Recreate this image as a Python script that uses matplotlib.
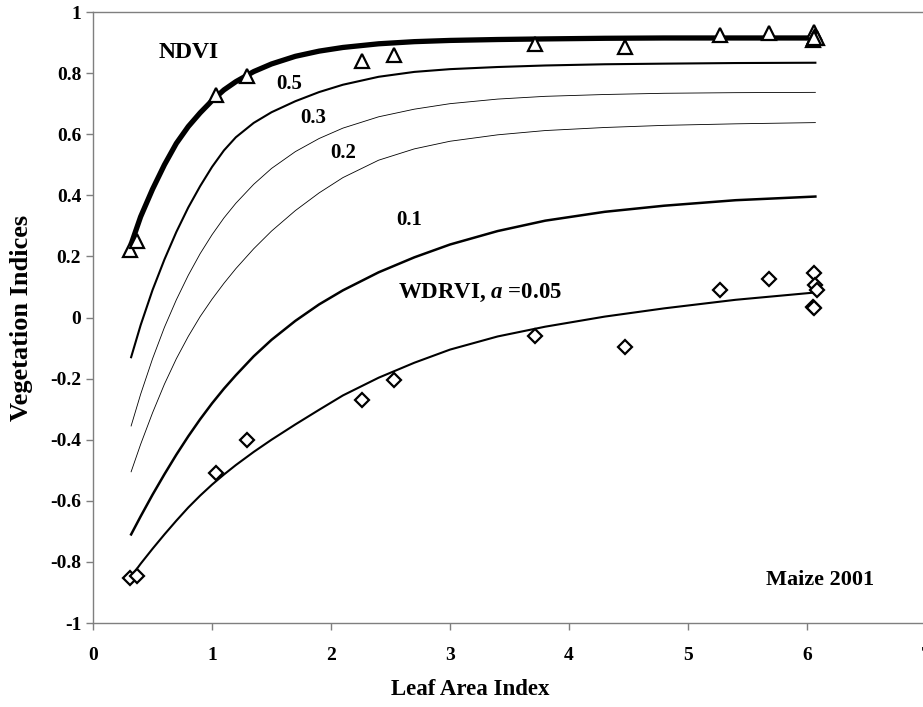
import matplotlib
matplotlib.use("Agg")
import matplotlib.pyplot as plt
from matplotlib.ticker import FuncFormatter

# ---- data ----
lai_grid = [0.32, 0.4, 0.5, 0.6, 0.7, 0.8, 0.9, 1.0, 1.1, 1.2, 1.35, 1.5,
            1.7, 1.9, 2.1, 2.4, 2.7, 3.0, 3.4, 3.8, 4.3, 4.8, 5.4, 6.07]

ndvi_fit = [0.24, 0.33, 0.42, 0.50, 0.57, 0.625, 0.67, 0.71, 0.745, 0.772, 0.805, 0.83,
            0.855, 0.872, 0.884, 0.896, 0.903, 0.907, 0.910, 0.912, 0.914, 0.915, 0.915, 0.915]
wdrvi_05 = [-0.13, -0.025, 0.09, 0.19, 0.28, 0.36, 0.43, 0.493, 0.547, 0.590, 0.637, 0.672,
            0.708, 0.738, 0.762, 0.788, 0.804, 0.813, 0.820, 0.825, 0.829, 0.831, 0.833, 0.834]
wdrvi_03 = [-0.355, -0.251, -0.135, -0.032, 0.058, 0.138, 0.209, 0.271, 0.326, 0.374, 0.436, 0.488,
            0.543, 0.586, 0.620, 0.657, 0.682, 0.700, 0.715, 0.724, 0.730, 0.734, 0.736, 0.737]
wdrvi_02 = [-0.505, -0.415, -0.312, -0.218, -0.135, -0.062, 0.003, 0.060, 0.112, 0.160, 0.225, 0.283,
            0.350, 0.408, 0.458, 0.515, 0.552, 0.577, 0.598, 0.612, 0.622, 0.629, 0.634, 0.638]
wdrvi_01 = [-0.71, -0.651, -0.580, -0.513, -0.449, -0.389, -0.333, -0.281, -0.233, -0.189, -0.127, -0.073,
            -0.011, 0.043, 0.089, 0.148, 0.197, 0.239, 0.283, 0.317, 0.346, 0.366, 0.384, 0.396]
wdrvi_005 = [-0.848, -0.806, -0.757, -0.710, -0.665, -0.622, -0.583, -0.547, -0.514, -0.483, -0.440, -0.400,
             -0.350, -0.302, -0.255, -0.197, -0.148, -0.105, -0.062, -0.030, 0.003, 0.030, 0.058, 0.082]

lai_obs = [0.31, 0.37, 1.03, 1.29, 2.26, 2.53, 3.71, 4.47, 5.27, 5.68, 6.06, 6.07, 6.08, 6.05, 6.06]
ndvi_obs = [0.22, 0.25, 0.73, 0.79, 0.84, 0.86, 0.895, 0.885, 0.925, 0.93, 0.935, 0.92, 0.915, 0.91, 0.915]
wdrvi_obs = [-0.853, -0.846, -0.51, -0.40, -0.27, -0.205, -0.06, -0.095, 0.09, 0.127, 0.146, 0.105,
             0.09, 0.035, 0.03]

curve_labels = ["0.5", "0.3", "0.2", "0.1"]
label_x = [1.65, 1.85, 2.10, 2.66]
label_y = [0.764, 0.653, 0.537, 0.32]

x_ticks = [0, 1, 2, 3, 4, 5, 6, 7]
y_ticks = [-1, -0.8, -0.6, -0.4, -0.2, 0, 0.2, 0.4, 0.6, 0.8, 1]

# ---- figure ----
plt.rcParams['font.family'] = ['Liberation Serif', 'DejaVu Serif']
plt.rcParams['font.weight'] = 'bold'
plt.rcParams['mathtext.fontset'] = 'custom'
plt.rcParams['mathtext.rm'] = 'Liberation Serif:bold'
plt.rcParams['mathtext.it'] = 'Liberation Serif:italic:bold'
plt.rcParams['mathtext.bf'] = 'Liberation Serif:bold'

fig = plt.figure(figsize=(9.23, 7.07), dpi=100)
ax = fig.add_axes([0.1008, 0.1188, 0.9025, 0.8642])

ax.plot(lai_grid, ndvi_fit, color='black', lw=3.8, solid_capstyle='butt', zorder=3)
ax.plot(lai_grid, wdrvi_05, color='black', lw=1.5, zorder=3)
ax.plot(lai_grid, wdrvi_03, color='black', lw=0.6, zorder=3)
ax.plot(lai_grid, wdrvi_02, color='black', lw=0.6, zorder=3)
ax.plot(lai_grid, wdrvi_01, color='black', lw=1.8, zorder=3)
ax.plot(lai_grid, wdrvi_005, color='black', lw=1.5, zorder=3)

ax.plot(lai_obs, ndvi_obs, linestyle='none', marker='^', markersize=10,
        markerfacecolor='white', markeredgecolor='black', markeredgewidth=1.6, zorder=4)
ax.plot(lai_obs, wdrvi_obs, linestyle='none', marker='D', markersize=7.5,
        markerfacecolor='white', markeredgecolor='black', markeredgewidth=1.6, zorder=4)

for t, x, y in zip(curve_labels, label_x, label_y):
    ax.text(x, y, t, ha='center', va='center', fontsize=15, fontweight='bold')

ax.text(0.80, 0.866, "NDVI", ha='center', va='center', fontsize=17, fontweight='bold')
ax.text(2.56, 0.079, r"WDRVI, $\mathit{a}$ =0.05", ha='left', va='center',
        fontsize=16.5, fontweight='bold')
ax.text(6.11, -0.859, "Maize 2001", ha='center', va='center', fontsize=16, fontweight='bold')

ax.set_xlim(0, 7)
ax.set_ylim(-1, 1)
ax.set_xticks(x_ticks)
ax.set_yticks(y_ticks)
ax.yaxis.set_major_formatter(FuncFormatter(lambda v, p: ("%g" % v) if abs(v) > 1e-9 else "0"))

for s in ['left', 'bottom', 'top', 'right']:
    ax.spines[s].set_color('#7f7f7f')
    ax.spines[s].set_linewidth(1.0)
ax.tick_params(axis='both', direction='out', length=5, width=1, color='#7f7f7f',
               labelsize=14)
ax.tick_params(axis='x', pad=12)
ax.tick_params(axis='y', pad=3.5)
for lab in ax.get_xticklabels() + ax.get_yticklabels():
    lab.set_fontweight('bold')

ax.set_xlabel("Leaf Area Index", fontsize=16.5, fontweight='bold')
ax.set_ylabel("Vegetation Indices", fontsize=19, fontweight='bold')
ax.xaxis.set_label_coords(0.4526, -0.092)
ax.yaxis.set_label_coords(-0.072, 0.5)

fig.savefig("out.png", dpi=100)
